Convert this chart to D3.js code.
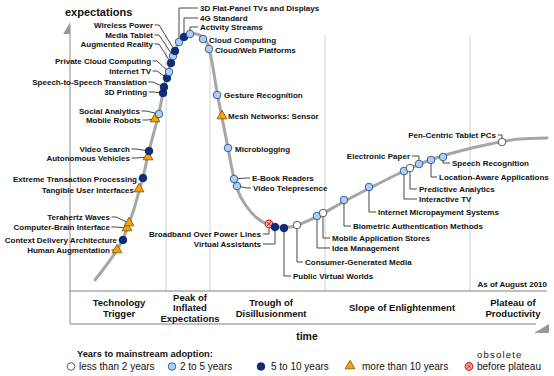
<!DOCTYPE html>
<html>
<head>
<meta charset="utf-8">
<script src="https://cdn.jsdelivr.net/npm/d3@7"></script>
<style>
  html, body { margin: 0; padding: 0; background: #fff; }
  svg { display: block; font-family: "Liberation Sans", Arial, sans-serif; }
</style>
</head>
<body>
<svg id="chart" width="554" height="376"></svg>
<script>
// ---------------- DATA ----------------
const techNames = [
  "Human Augmentation", "Context Delivery Architecture", "Computer-Brain Interface", "Terahertz Waves",
  "Tangible User Interfaces", "Extreme Transaction Processing", "Autonomous Vehicles", "Video Search",
  "Mobile Robots", "Social Analytics", "3D Printing", "Speech-to-Speech Translation", "Internet TV",
  "Private Cloud Computing", "Augmented Reality", "Media Tablet", "Wireless Power",
  "3D Flat-Panel TVs and Displays", "4G Standard", "Activity Streams", "Cloud Computing",
  "Cloud/Web Platforms", "Gesture Recognition", "Mesh Networks: Sensor", "Microblogging",
  "E-Book Readers", "Video Telepresence", "Broadband Over Power Lines", "Virtual Assistants",
  "Public Virtual Worlds", "Consumer-Generated Media", "Idea Management", "Mobile Application Stores",
  "Biometric Authentication Methods", "Internet Micropayment Systems", "Interactive TV",
  "Predictive Analytics", "Electronic Paper", "Location-Aware Applications", "Speech Recognition",
  "Pen-Centric Tablet PCs"
];
// position along time axis (0-100)
const techTime = [
  9.79, 11.04, 11.88, 12.29, 14.38, 15.21, 16.25, 16.46, 17.71, 18.54, 19.38, 19.58, 20.21,
  20.63, 21.04, 21.46, 21.88, 22.71, 23.75, 25.0, 27.71, 28.96, 30.63, 31.67, 32.92, 34.17,
  34.79, 41.46, 42.71, 44.58, 47.29, 51.46, 52.71, 57.08, 62.29, 69.58, 70.83, 72.71, 75.21,
  77.71, 90.0
];
// expectations (0-100)
const techExpect = [
  14.29, 17.86, 22.14, 23.93, 36.07, 40.0, 47.5, 49.64, 61.07, 62.86, 70.36, 72.5, 75.71,
  77.86, 81.07, 83.57, 85.36, 88.57, 90.36, 91.43, 89.64, 86.07, 69.64, 62.14, 50.71, 39.64,
  37.14, 23.57, 22.5, 22.14, 23.21, 26.43, 27.5, 32.14, 36.79, 42.5, 43.57, 45.0, 46.43,
  47.5, 52.86
];
// years to mainstream adoption
const techYears = [
  "gt10", "5to10", "gt10", "gt10", "gt10", "5to10", "gt10", "5to10", "gt10", "2to5", "5to10",
  "5to10", "5to10", "2to5", "5to10", "2to5", "5to10", "2to5", "5to10", "2to5", "2to5", "2to5",
  "2to5", "gt10", "2to5", "2to5", "2to5", "obs", "5to10", "5to10", "lt2", "2to5", "lt2",
  "2to5", "2to5", "2to5", "lt2", "2to5", "2to5", "2to5", "lt2"
];
// hype curve (time, expectations)
const curveTime = [
  5.21, 7.29, 8.96, 10.0, 11.04, 12.08, 13.13, 14.17, 15.21, 16.46, 17.5, 18.54, 19.38, 20.21,
  21.04, 21.88, 22.71, 23.75, 25.0, 26.46, 27.71, 28.75, 29.58, 30.63, 31.67, 32.92, 33.96,
  35.0, 36.88, 38.96, 41.04, 43.75, 45.83, 47.92, 52.08, 57.29, 62.5, 68.75, 75.0, 81.25,
  87.5, 93.75, 99.38
];
const curveExpect = [
  3.57, 8.21, 12.14, 15.0, 18.21, 22.86, 27.86, 33.93, 40.36, 49.64, 56.43, 63.21, 70.36, 76.07,
  81.07, 85.36, 88.57, 90.54, 91.61, 91.43, 90.0, 87.5, 81.43, 70.71, 61.43, 50.71, 41.43,
  35.36, 29.64, 25.71, 23.57, 22.5, 22.5, 23.57, 26.79, 31.79, 36.43, 41.79, 46.43, 49.64,
  52.14, 53.93, 54.29
];
const phaseNames = [["Technology", "Trigger"], ["Peak of", "Inflated", "Expectations"],
  ["Trough of", "Disillusionment"], ["Slope of Enlightenment"], ["Plateau of", "Productivity"]];
const phaseCenters = [10.21, 25.0, 41.88, 69.17, 92.29];
const phaseBounds = [20.0, 29.17, 53.13, 83.33];
const legendCodes = ["lt2", "2to5", "5to10", "gt10", "obs"];
const legendLabels = ["less than 2 years", "2 to 5 years", "5 to 10 years", "more than 10 years", "before plateau"];

// ---------------- LAYOUT (label offsets in px relative to marker) ----------------
const labelLayout = [
  [-7, 0, "L"], [-6, 0, "L"], [-17, -1, "L"], [-19, -6, "L"], [-5, 1, "L"], [-6, 1, "L"],
  [-18, 1, "L"], [-19, -2, "L"], [-14, 1, "L"], [-19, -3, "L"], [-16, -1, "L"], [-17, -5, "L"],
  [-16, -7, "L"], [-18, -11, "L"], [-18, -19, "L"], [-20, -21, "L"], [-22, -26, "L"],
  [21, -34, "T"], [16, -19, "T"], [10, -7, "T"],
  [6, 1, "R"], [6, 1, "R"], [7, 0, "R"], [6, 0, "R"], [7, 1, "R"],
  [18, -1, "RD"], [16, 2, "RD"],
  [-8, 10, "LB"], [-14, 17, "LB"],
  [9, 48, "B"], [8, 37, "B"], [15, 32, "B"], [9, 25, "B"], [9, 26, "B"], [9, 25, "B"],
  [15, 28, "B"], [9, 21, "B"], [-9, -8, "LT"], [8, 17, "B"], [9, 6, "B"], [-6, -7, "LT"]
];

// ---------------- DRAW ----------------
const svg = d3.select("#chart");
const x = d3.scaleLinear().domain([0, 100]).range([70, 550]);
const y = d3.scaleLinear().domain([0, 100]).range([290, 10]);

const AXL = 70, BAND_T = 291, BAND_B = 324, RIGHT = 547;

// dividers
svg.selectAll("line.div").data(phaseBounds).join("line")
  .attr("x1", d => x(d)).attr("x2", d => x(d))
  .attr("y1", 35).attr("y2", BAND_T)
  .attr("stroke", "#d0d0d0").attr("stroke-width", 1);

// frame
svg.append("line").attr("x1", AXL).attr("x2", AXL).attr("y1", 33).attr("y2", BAND_B)
  .attr("stroke", "#a0a0a0").attr("stroke-width", 1.2);
svg.append("line").attr("x1", AXL).attr("x2", RIGHT).attr("y1", BAND_T).attr("y2", BAND_T)
  .attr("stroke", "#808080").attr("stroke-width", 1.2);
svg.append("line").attr("x1", AXL).attr("x2", 536).attr("y1", BAND_B).attr("y2", BAND_B)
  .attr("stroke", "#a8a8a8").attr("stroke-width", 1.5);
svg.append("polygon").attr("points", "70.5,22 63,34 70.5,34").attr("fill", "#999");
svg.append("polygon").attr("points", "534,333 549,324 549,333").attr("fill", "#999");

// titles
svg.append("text").attr("x", 65).attr("y", 16).attr("font-size", 11).attr("font-weight", "bold")
  .attr("fill", "#111").text("expectations");
svg.append("text").attr("x", 307).attr("y", 340).attr("text-anchor", "middle").attr("font-size", 10.5)
  .attr("font-weight", "bold").attr("fill", "#111").text("time");
svg.append("text").attr("x", 547).attr("y", 287).attr("text-anchor", "end").attr("font-size", 8)
  .attr("font-weight", "bold").attr("fill", "#111").text("As of August 2010");

// phase labels
phaseNames.forEach((lines, i) => {
  const n = lines.length, lh = 10.5, cy = 308;
  const t = svg.append("text").attr("text-anchor", "middle").attr("font-size", 9.5)
    .attr("font-weight", "bold").attr("fill", "#111");
  lines.forEach((ln, j) => {
    t.append("tspan").attr("x", x(phaseCenters[i]))
      .attr("y", cy + (j - (n - 1) / 2) * lh + 3.4).text(ln);
  });
});

// curve
const curvePts = curveTime.map((t, i) => [t, curveExpect[i]]);
svg.append("path")
  .attr("d", d3.line().x(d => x(d[0])).y(d => y(d[1])).curve(d3.curveMonotoneX)(curvePts))
  .attr("fill", "none").attr("stroke", "#a6a6a6").attr("stroke-width", 3).attr("stroke-linecap", "round");

// markers style
const fills = { lt2: "#ffffff", "2to5": "#a9d1f5", "5to10": "#0d2c84", gt10: "#f5a300", obs: "#f7b5b5" };
const strokes = { lt2: "#333333", "2to5": "#1e3c78", "5to10": "#081c52", gt10: "#7a5200", obs: "#e02020" };

function drawMarker(g, code, cx, cy) {
  if (code === "gt10") {
    g.append("path").attr("d", d3.symbol().type(d3.symbolTriangle).size(42)())
      .attr("transform", `translate(${cx},${cy})`)
      .attr("fill", fills[code]).attr("stroke", strokes[code]).attr("stroke-width", 0.8);
  } else if (code === "obs") {
    g.append("circle").attr("cx", cx).attr("cy", cy).attr("r", 3.8)
      .attr("fill", fills[code]).attr("stroke", strokes[code]).attr("stroke-width", 1.2);
    const k = 2.2;
    g.append("path").attr("d", `M${cx - k},${cy - k}L${cx + k},${cy + k}M${cx - k},${cy + k}L${cx + k},${cy - k}`)
      .attr("stroke", strokes[code]).attr("stroke-width", 1);
  } else {
    g.append("circle").attr("cx", cx).attr("cy", cy).attr("r", 3.8)
      .attr("fill", fills[code]).attr("stroke", strokes[code]).attr("stroke-width", 0.8);
  }
}

// connectors & labels
const connG = svg.append("g");
const markG = svg.append("g");
const labG = svg.append("g").attr("font-size", 8).attr("font-weight", "bold").attr("fill", "#111");

techNames.forEach((name, i) => {
  const mx = x(techTime[i]), my = y(techExpect[i]);
  const [dx, dy, kind] = labelLayout[i];
  const lx = mx + dx, ly = my + dy;
  let pts = null, anchor = "start";
  if (kind === "L") {
    anchor = "end";
    pts = dx < -9 ? [[lx + 1.5, ly], [lx + 6, ly], [mx, my]] : [[lx + 1.5, ly], [mx, my]];
  } else if (kind === "T") {
    pts = [[lx - 2, ly], [mx, ly], [mx, my]];
  } else if (kind === "RD") {
    pts = [[mx, my], [lx - 6, ly], [lx - 2, ly]];
  } else if (kind === "LB" || kind === "LT") {
    anchor = "end";
    pts = [[lx + 2, ly], [mx, ly], [mx, my]];
  } else if (kind === "B") {
    pts = [[mx, my], [mx, ly], [lx - 2, ly]];
  }
  if (pts) {
    connG.append("path").attr("d", d3.line()(pts)).attr("fill", "none")
      .attr("stroke", "#333").attr("stroke-width", 0.9);
  }
  labG.append("text").attr("x", lx).attr("y", ly).attr("dy", "0.35em")
    .attr("text-anchor", anchor).text(name);
  drawMarker(markG, techYears[i], mx, my);
});

// legend
svg.append("text").attr("x", 77).attr("y", 357).attr("font-size", 9.3).attr("font-weight", "bold")
  .attr("fill", "#111").text("Years to mainstream adoption:");
const legX = [71, 172, 261, 350, 469];
const legTextOff = [8, 8, 10, 12, 8];
const legG = svg.append("g");
legendCodes.forEach((c, i) => {
  drawMarker(legG, c, legX[i], c === "gt10" ? 366 : 366.5);
  legG.append("text").attr("x", legX[i] + legTextOff[i]).attr("y", 370).attr("font-size", 10)
    .attr("fill", "#111").text(legendLabels[i]);
});
legG.append("text").attr("x", 477).attr("y", 358).attr("font-size", 9.5).attr("letter-spacing", 1.2)
  .attr("fill", "#111").text("obsolete");
</script>
</body>
</html>
